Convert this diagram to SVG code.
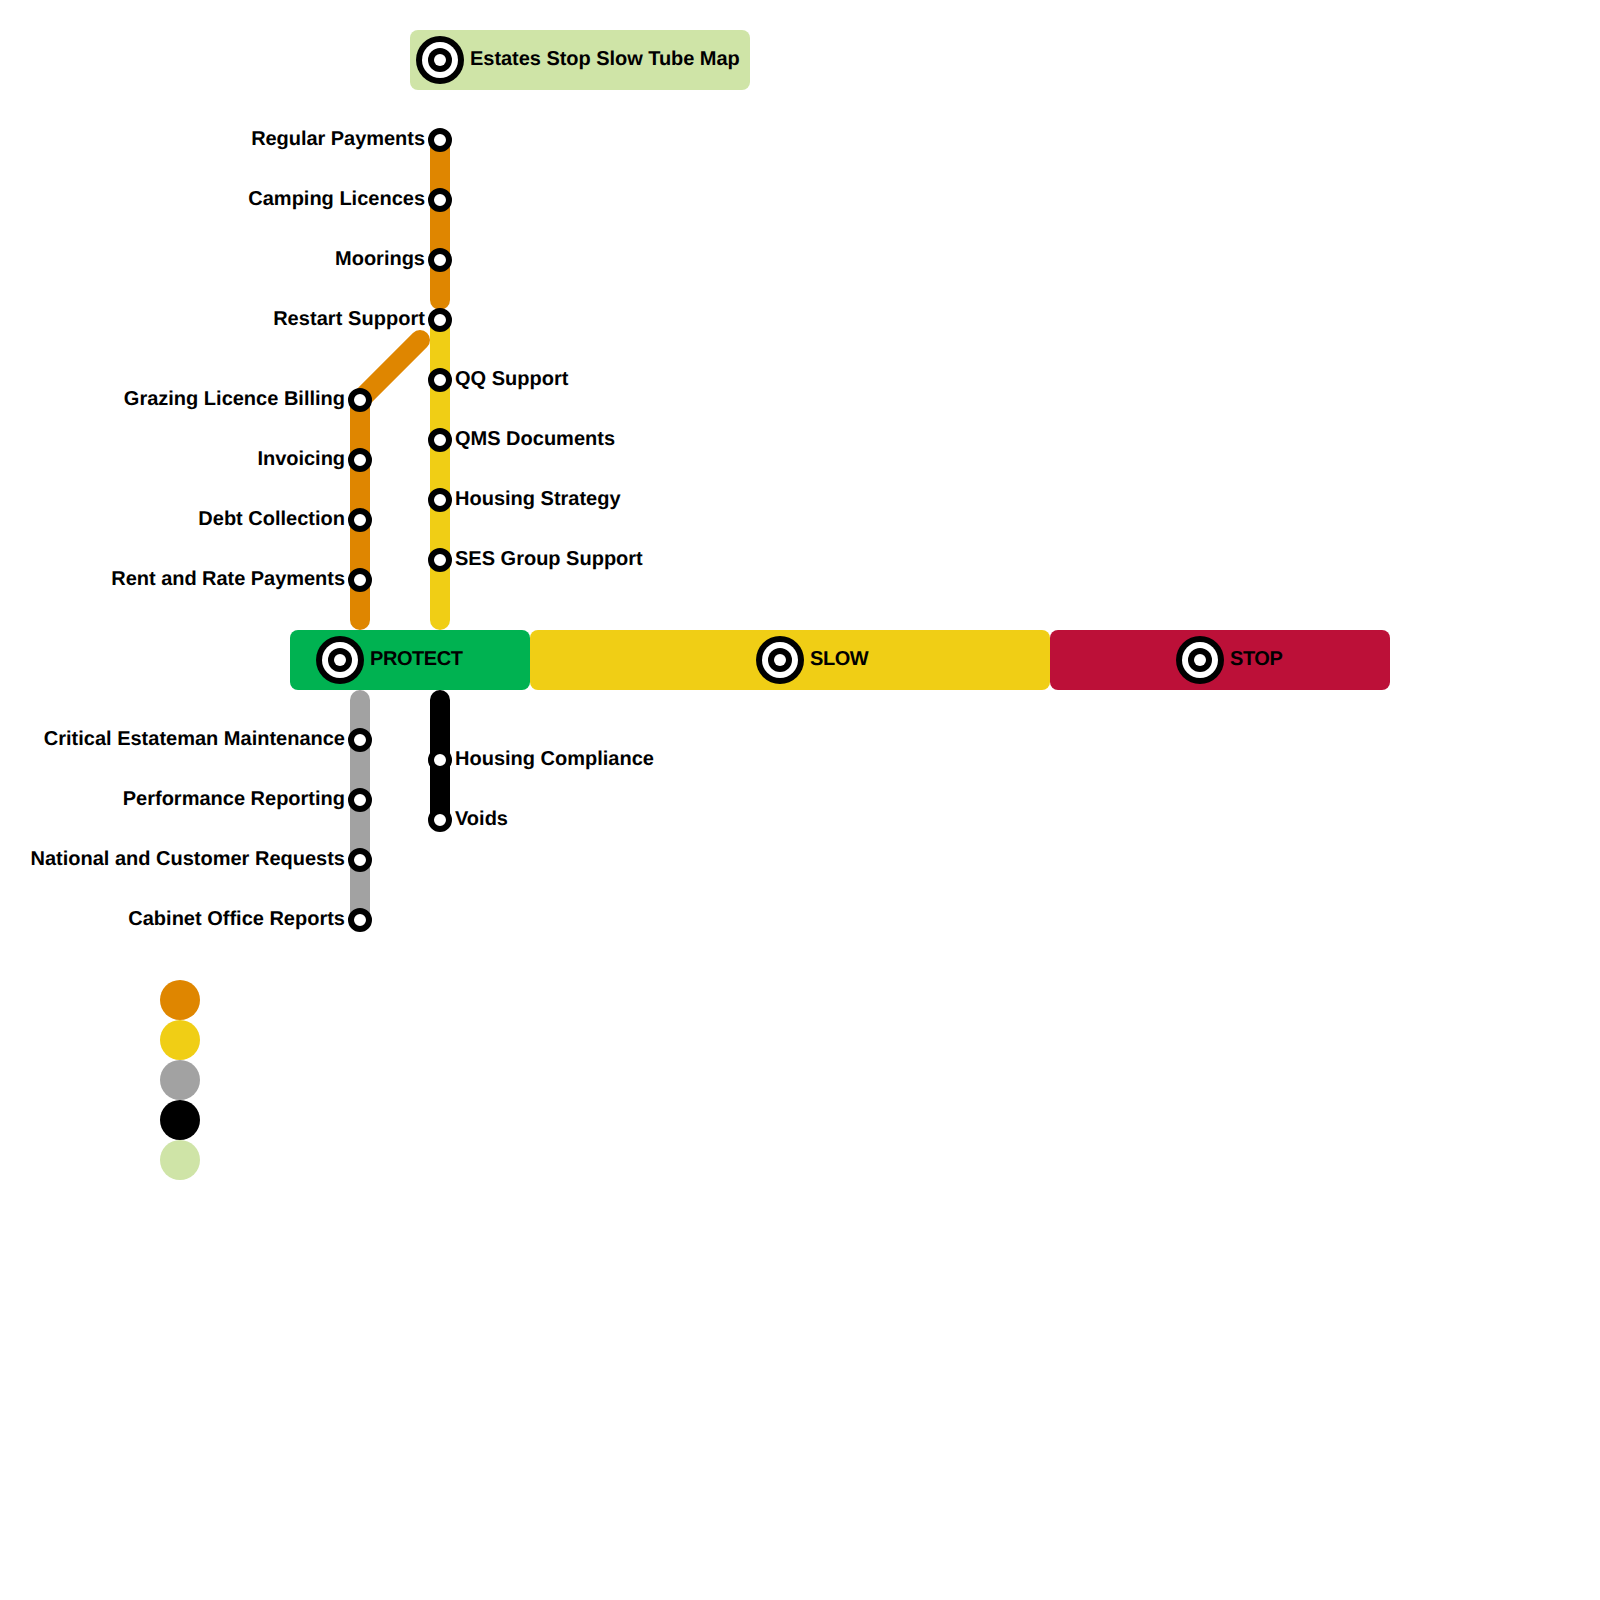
<svg xmlns="http://www.w3.org/2000/svg" width="1600" height="1600" viewBox="0 0 1600 1600">
<defs>
<style>
text{font-family:"Liberation Sans",Arial,sans-serif;font-size:20px;font-weight:bold;fill:#000;text-rendering:geometricPrecision}
.e{text-anchor:end}
.t{letter-spacing:-.04px}
.b{letter-spacing:-.45px}
.l{fill:none;stroke-width:20;stroke-linecap:round;stroke-linejoin:round}
.st{fill:#fff;stroke:#000;stroke-width:6}
.o{stroke:#df8600}.y{stroke:#f0ce15}.g{stroke:#a2a2a2}.k{stroke:#000}
</style>
<g id="term"><circle r="24" fill="#000"/><circle r="18" fill="#fff"/><circle r="12" fill="#000"/><circle r="6" fill="#fff"/></g>
</defs>
<rect width="1600" height="1600" fill="#fff"/>
<g id="connectors">
<path class="l y" d="M440 320V620"/>
<path class="l o" d="M440 140V300"/>
<path class="l o" d="M360 620V400L420 340"/>
<path class="l g" d="M360 700V920"/>
<path class="l k" d="M440 700V820"/>
</g>
<g id="title"><rect x="410" y="30" width="340" height="60" rx="8" fill="#cfe4a7"/><use href="#term" x="440" y="60"/><text class="t" x="470" y="64.5">Estates Stop Slow Tube Map</text></g>
<g id="protect"><rect x="290" y="630" width="240" height="60" rx="8" fill="#00b251"/><use href="#term" x="340" y="660"/><text class="b" x="370" y="664.5">PROTECT</text></g>
<g id="slow"><rect x="530" y="630" width="520" height="60" rx="8" fill="#f0ce15"/><use href="#term" x="780" y="660"/><text class="b" x="810" y="664.5">SLOW</text></g>
<g id="stop"><rect x="1050" y="630" width="340" height="60" rx="8" fill="#bc1038"/><use href="#term" x="1200" y="660"/><text class="b" x="1230" y="664.5">STOP</text></g>
<g id="s1"><circle class="st" cx="440" cy="140" r="9"/><text class="e t" x="425" y="144.5">Regular Payments</text></g>
<g id="s2"><circle class="st" cx="440" cy="200" r="9"/><text class="e" x="425" y="204.5">Camping Licences</text></g>
<g id="s3"><circle class="st" cx="440" cy="260" r="9"/><text class="e" x="425" y="264.5">Moorings</text></g>
<g id="s4"><circle class="st" cx="440" cy="320" r="9"/><text class="e" x="425" y="324.5" style="letter-spacing:.05px">Restart Support</text></g>
<g id="s5"><circle class="st" cx="440" cy="380" r="9"/><text x="455" y="384.5">QQ Support</text></g>
<g id="s6"><circle class="st" cx="440" cy="440" r="9"/><text x="455" y="444.5">QMS Documents</text></g>
<g id="s7"><circle class="st" cx="440" cy="500" r="9"/><text x="455" y="504.5">Housing Strategy</text></g>
<g id="s8"><circle class="st" cx="440" cy="560" r="9"/><text x="455" y="564.5">SES Group Support</text></g>
<g id="s9"><circle class="st" cx="360" cy="400" r="9"/><text class="e" x="345" y="404.5">Grazing Licence Billing</text></g>
<g id="s10"><circle class="st" cx="360" cy="460" r="9"/><text class="e t" x="345" y="464.5">Invoicing</text></g>
<g id="s11"><circle class="st" cx="360" cy="520" r="9"/><text class="e" x="345" y="524.5">Debt Collection</text></g>
<g id="s12"><circle class="st" cx="360" cy="580" r="9"/><text class="e t" x="345" y="584.5">Rent and Rate Payments</text></g>
<g id="s13"><circle class="st" cx="360" cy="740" r="9"/><text class="e" x="345" y="744.5">Critical Estateman Maintenance</text></g>
<g id="s14"><circle class="st" cx="360" cy="800" r="9"/><text class="e" x="345" y="804.5">Performance Reporting</text></g>
<g id="s15"><circle class="st" cx="360" cy="860" r="9"/><text class="e" x="345" y="864.5">National and Customer Requests</text></g>
<g id="s16"><circle class="st" cx="360" cy="920" r="9"/><text class="e" x="345" y="924.5">Cabinet Office Reports</text></g>
<g id="s17"><circle class="st" cx="440" cy="760" r="9"/><text x="455" y="764.5">Housing Compliance</text></g>
<g id="s18"><circle class="st" cx="440" cy="820" r="9"/><text x="455" y="824.5">Voids</text></g>
<g id="legend">
<circle cx="180" cy="1000" r="20" fill="#df8600"/>
<circle cx="180" cy="1040" r="20" fill="#f0ce15"/>
<circle cx="180" cy="1080" r="20" fill="#a2a2a2"/>
<circle cx="180" cy="1120" r="20" fill="#000"/>
<circle cx="180" cy="1160" r="20" fill="#cfe4a7"/>
</g>
</svg>
